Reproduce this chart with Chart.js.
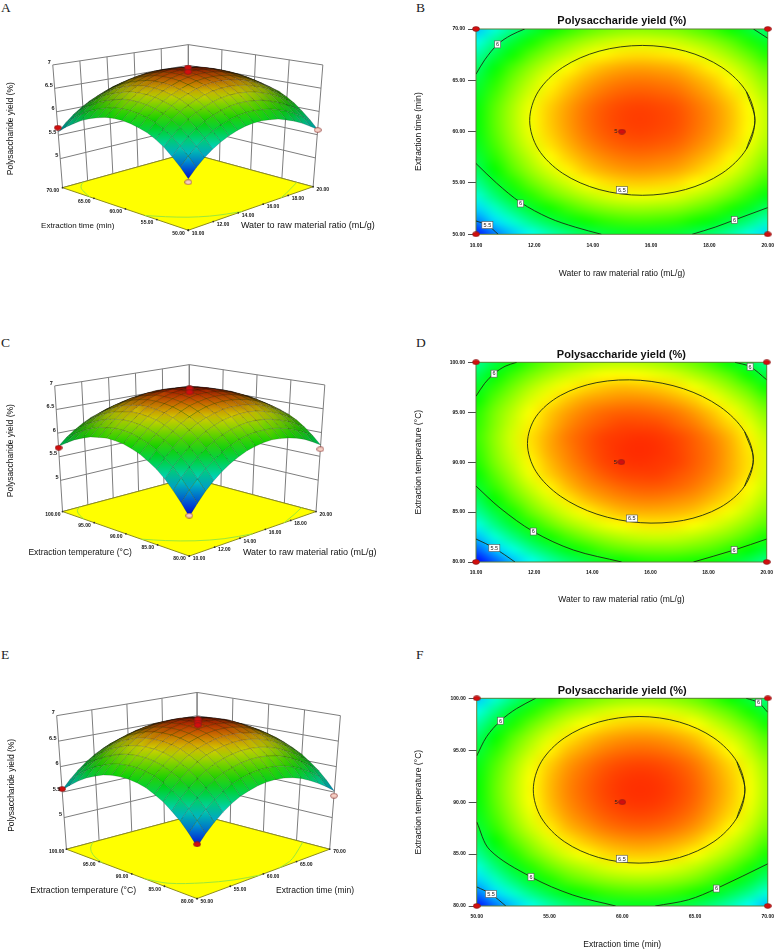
<!DOCTYPE html>
<html><head><meta charset="utf-8">
<script src="https://cdn.jsdelivr.net/npm/chart.js@4"></script>
<style>
html,body{margin:0;padding:0;background:#fff;overflow:hidden}
#page{position:relative;width:777px;height:951px}
canvas{position:absolute}
.tag{position:absolute;font:13.5px "Liberation Serif",serif;color:#222;line-height:13px}
</style></head><body><div id="page"></div>
<script>
const waterTicks=[10,12,14,16,18,20];
const timeTicks=[50,55,60,65,70];
const tempTicks=[80,85,90,95,100];
const zTicks=[5,5.5,6,6.5,7];
const gridSteps=[0,.0625,.125,.1875,.25,.3125,.375,.4375,.5,.5625,.625,.6875,.75,.8125,.875,.9375,1];

const yieldAB=[
[5.28,5.44,5.58,5.70,5.80,5.88,5.95,6.00,6.03,6.04,6.03,6.01,5.96,5.90,5.82,5.72,5.61],
[5.45,5.61,5.75,5.87,5.97,6.05,6.12,6.17,6.20,6.21,6.20,6.18,6.13,6.07,5.99,5.89,5.78],
[5.60,5.76,5.90,6.02,6.12,6.20,6.27,6.32,6.35,6.36,6.35,6.33,6.28,6.22,6.14,6.04,5.93],
[5.74,5.90,6.04,6.16,6.26,6.34,6.41,6.46,6.49,6.50,6.49,6.47,6.42,6.36,6.28,6.18,6.07],
[5.85,6.01,6.15,6.27,6.37,6.45,6.52,6.57,6.60,6.61,6.60,6.58,6.53,6.47,6.39,6.29,6.18],
[5.94,6.10,6.24,6.36,6.46,6.54,6.61,6.66,6.69,6.70,6.69,6.67,6.62,6.56,6.48,6.38,6.27],
[6.00,6.16,6.30,6.42,6.52,6.60,6.67,6.72,6.75,6.76,6.75,6.73,6.68,6.62,6.54,6.44,6.33],
[6.05,6.21,6.35,6.47,6.57,6.65,6.72,6.77,6.80,6.81,6.80,6.78,6.73,6.67,6.59,6.49,6.38],
[6.08,6.24,6.38,6.50,6.60,6.68,6.75,6.80,6.83,6.84,6.83,6.81,6.76,6.70,6.62,6.52,6.41],
[6.09,6.25,6.39,6.51,6.61,6.69,6.76,6.81,6.84,6.85,6.84,6.82,6.77,6.71,6.63,6.53,6.42],
[6.08,6.24,6.38,6.50,6.60,6.68,6.75,6.80,6.83,6.84,6.83,6.81,6.76,6.70,6.62,6.52,6.41],
[6.04,6.20,6.34,6.46,6.56,6.64,6.71,6.76,6.79,6.80,6.79,6.77,6.72,6.66,6.58,6.48,6.37],
[5.99,6.15,6.29,6.41,6.51,6.59,6.66,6.71,6.74,6.75,6.74,6.72,6.67,6.61,6.53,6.43,6.32],
[5.92,6.08,6.22,6.34,6.44,6.52,6.59,6.64,6.67,6.68,6.67,6.65,6.60,6.54,6.46,6.36,6.25],
[5.82,5.98,6.12,6.24,6.34,6.42,6.49,6.54,6.57,6.58,6.57,6.55,6.50,6.44,6.36,6.26,6.15],
[5.71,5.87,6.01,6.13,6.23,6.31,6.38,6.43,6.46,6.47,6.46,6.44,6.39,6.33,6.25,6.15,6.04],
[5.57,5.73,5.87,5.99,6.09,6.17,6.24,6.29,6.32,6.33,6.32,6.30,6.25,6.19,6.11,6.01,5.90]];

// panels C/D: rows run from temperature 80 to 100, columns from ratio 10 to 20
const yieldCD=[
[5.02,5.21,5.39,5.54,5.67,5.78,5.87,5.95,6.00,6.04,6.06,6.05,6.03,5.99,5.93,5.84,5.74],
[5.22,5.41,5.57,5.72,5.85,5.96,6.05,6.13,6.18,6.21,6.22,6.22,6.19,6.15,6.08,6.00,5.90],
[5.40,5.59,5.75,5.90,6.03,6.13,6.22,6.29,6.34,6.37,6.38,6.37,6.34,6.29,6.23,6.14,6.04],
[5.57,5.75,5.91,6.06,6.18,6.29,6.37,6.44,6.48,6.51,6.52,6.51,6.47,6.42,6.35,6.26,6.16],
[5.71,5.88,6.04,6.19,6.31,6.41,6.49,6.55,6.60,6.62,6.62,6.61,6.58,6.52,6.45,6.36,6.25],
[5.82,6.00,6.15,6.29,6.41,6.51,6.59,6.65,6.69,6.71,6.71,6.69,6.66,6.60,6.53,6.43,6.32],
[5.92,6.09,6.24,6.38,6.49,6.59,6.67,6.72,6.76,6.78,6.78,6.76,6.72,6.66,6.58,6.48,6.37],
[5.99,6.16,6.31,6.45,6.56,6.65,6.72,6.78,6.82,6.83,6.83,6.80,6.76,6.70,6.62,6.52,6.40],
[6.05,6.22,6.36,6.49,6.60,6.69,6.76,6.82,6.85,6.86,6.85,6.83,6.78,6.72,6.63,6.53,6.41],
[6.08,6.25,6.39,6.52,6.63,6.71,6.78,6.83,6.86,6.87,6.86,6.83,6.78,6.72,6.63,6.52,6.40],
[6.10,6.26,6.40,6.53,6.63,6.72,6.78,6.83,6.85,6.86,6.85,6.82,6.77,6.70,6.61,6.50,6.37],
[6.08,6.24,6.38,6.50,6.60,6.69,6.75,6.79,6.82,6.82,6.81,6.77,6.72,6.64,6.55,6.44,6.31],
[6.06,6.22,6.35,6.47,6.57,6.65,6.71,6.75,6.77,6.77,6.75,6.72,6.66,6.58,6.49,6.37,6.24],
[6.00,6.16,6.29,6.41,6.50,6.58,6.64,6.67,6.69,6.69,6.67,6.63,6.57,6.49,6.39,6.28,6.14],
[5.93,6.08,6.21,6.33,6.42,6.49,6.54,6.58,6.60,6.59,6.57,6.53,6.46,6.38,6.28,6.16,6.02],
[5.83,5.98,6.11,6.22,6.31,6.38,6.43,6.47,6.48,6.47,6.44,6.40,6.33,6.25,6.15,6.02,5.88],
[5.72,5.87,5.99,6.10,6.19,6.25,6.30,6.33,6.34,6.33,6.30,6.25,6.19,6.10,5.99,5.87,5.72]];

// panels E/F: rows run from temperature 80 to 100, columns from time 50 to 70
const yieldEF=[
[5.22,5.39,5.54,5.67,5.78,5.87,5.93,5.98,6.01,6.02,6.01,5.98,5.93,5.85,5.76,5.65,5.52],
[5.40,5.57,5.72,5.85,5.96,6.05,6.11,6.16,6.19,6.20,6.19,6.16,6.11,6.03,5.94,5.83,5.70],
[5.56,5.73,5.88,6.01,6.12,6.21,6.27,6.32,6.35,6.36,6.35,6.32,6.27,6.19,6.10,5.99,5.86],
[5.69,5.86,6.01,6.14,6.25,6.34,6.40,6.45,6.48,6.49,6.48,6.45,6.40,6.32,6.23,6.12,5.99],
[5.81,5.98,6.13,6.26,6.37,6.46,6.52,6.57,6.60,6.61,6.60,6.57,6.52,6.44,6.35,6.24,6.11],
[5.90,6.07,6.22,6.35,6.46,6.55,6.61,6.66,6.69,6.70,6.69,6.66,6.61,6.53,6.44,6.33,6.20],
[5.98,6.15,6.30,6.43,6.54,6.63,6.69,6.74,6.77,6.78,6.77,6.74,6.69,6.61,6.52,6.41,6.28],
[6.03,6.20,6.35,6.48,6.59,6.68,6.74,6.79,6.82,6.83,6.82,6.79,6.74,6.66,6.57,6.46,6.33],
[6.06,6.23,6.38,6.51,6.62,6.71,6.77,6.82,6.85,6.86,6.85,6.82,6.77,6.69,6.60,6.49,6.36],
[6.07,6.24,6.39,6.52,6.63,6.72,6.78,6.83,6.86,6.87,6.86,6.83,6.78,6.70,6.61,6.50,6.37],
[6.06,6.23,6.38,6.51,6.62,6.71,6.77,6.82,6.85,6.86,6.85,6.82,6.77,6.69,6.60,6.49,6.36],
[6.03,6.20,6.35,6.48,6.59,6.68,6.74,6.79,6.82,6.83,6.82,6.79,6.74,6.66,6.57,6.46,6.33],
[5.97,6.14,6.29,6.42,6.53,6.62,6.68,6.73,6.76,6.77,6.76,6.73,6.68,6.60,6.51,6.40,6.27],
[5.90,6.07,6.22,6.35,6.46,6.55,6.61,6.66,6.69,6.70,6.69,6.66,6.61,6.53,6.44,6.33,6.20],
[5.80,5.97,6.12,6.25,6.36,6.45,6.51,6.56,6.59,6.60,6.59,6.56,6.51,6.43,6.34,6.23,6.10],
[5.68,5.85,6.00,6.13,6.24,6.33,6.39,6.44,6.47,6.48,6.47,6.44,6.39,6.31,6.22,6.11,5.98],
[5.54,5.71,5.86,5.99,6.10,6.19,6.25,6.30,6.33,6.34,6.33,6.30,6.25,6.17,6.08,5.97,5.84]];

const contB65=[[19.56,61.1],[19.27,63.89],[18.43,66.26],[17.18,67.84],[15.7,68.4],[14.22,67.84],[12.97,66.26],[12.13,63.89],[11.84,61.1],[12.13,58.31],[12.97,55.94],[14.22,54.36],[15.7,53.8],[17.18,54.36],[18.43,55.94],[19.27,58.31],[19.56,61.1]];
const contB6a=[[10,65.6],[10.3,67],[10.74,68.5],[11.2,69.4],[11.67,70]];
const contB6b=[[19.51,70],[20,69.1]];
const contB6c=[[10,56.9],[10.7,55],[11.53,53.1],[12.5,51.6],[13.4,50.7],[14.3,50]];
const contB6d=[[17.41,50],[18.2,50.7],[18.86,51.4],[20,52.6]];
const contB55=[[10,51.3],[10.39,50.9],[10.76,50]];
const contD65=[[19.54,90.27],[19.24,93.06],[18.40,95.54],[17.14,97.35],[15.65,98.2],[14.16,97.97],[12.90,96.67],[12.06,94.54],[11.77,91.87],[12.06,89.08],[12.90,86.6],[14.16,84.79],[15.65,83.94],[17.14,84.17],[18.40,85.47],[19.24,87.6],[19.54,90.27]];
const contD6a=[[10,96.6],[10.3,97.9],[10.62,98.86],[11,99.6],[11.4,100]];
const contD6b=[[18.91,100],[19.43,99.56],[20,98.25]];
const contD6c=[[10,87.6],[10.83,85.4],[11.97,83.05],[13.35,81.2],[15.01,80]];
const contD6d=[[17.48,80],[18.88,81.2],[20,82.3]];
const contD55=[[10,82.3],[10.63,81.4],[11.34,80]];
const contF65=[[68.43,91.19],[67.88,93.89],[66.3,96.18],[63.94,97.71],[61.16,98.25],[58.38,97.71],[56.02,96.18],[54.44,93.89],[53.89,91.19],[54.44,88.49],[56.02,86.2],[58.38,84.67],[61.16,84.13],[63.94,84.67],[66.3,86.2],[67.88,88.49],[68.43,91.19]];
const contF6a=[[50,94.45],[50.68,96.3],[51.64,97.84],[52.73,99],[54.05,100]];
const contF6b=[[68.52,100],[69.36,99.58],[70,98.65]];
const contF6c=[[50,88.1],[50.9,85.4],[53.73,82.8],[56.6,81.06],[59.55,80]];
const contF6d=[[62.27,80],[64.55,80.6],[66.48,81.68],[70,84.06]];
const contF55=[[50,81.84],[50.98,81.16],[52,80]];

// contour label boxes [x, y, text]
const tagsB=[[10.74,68.5,'6'],[11.53,53,'6'],[18.86,51.4,'6'],[10.39,50.9,'5.5'],[15,54.3,'6.5']];
const tagsD=[[10.62,98.86,'6'],[19.43,99.56,'6'],[11.97,83.05,'6'],[18.88,81.2,'6'],[10.63,81.4,'5.5'],[15.36,84.36,'6.5']];
const tagsF=[[51.64,97.84,'6'],[69.36,99.58,'6'],[53.73,82.8,'6'],[66.48,81.68,'6'],[50.98,81.16,'5.5'],[59.98,84.55,'6.5']];

// design points on the response surfaces [x, y, yield, pale?]
const designA=[[10,70,5.66,0],[20,50,5.6,1],[10,50,5.22,1],[15,60,6.92,0],[15,60,6.83,0]];
const designC=[[10,100,5.69,0],[20,80,5.65,1],[10,80,5.04,1],[15,90,6.92,0],[15,90,6.84,0]];
const designE=[[50,100,5.56,0],[70,80,5.43,1],[50,80,5.26,0],[60,90,6.92,0],[60,90,6.86,0],[60,90,6.81,0]];
// design points on the contour plots [x, y]
const runsB=[[10,50],[20,50],[10,70],[20,70],[15,60]];
const runsD=[[10,80],[20,80],[10,100],[20,100],[15,90]];
const runsF=[[50,80],[70,80],[50,100],[70,100],[60,90]];

const FAMILY='"Liberation Sans",Arial,sans-serif';

function heatRGB(v,lo,hi){
  const stops=[[0,0,255],[0,255,255],[0,255,0],[255,255,0],[255,0,0]];
  let t=Math.max(0,Math.min(.9999,(v-lo)/(hi-lo)))*4,k=Math.floor(t),f=t-k;
  return stops[k].map((c,n)=>Math.round(c+(stops[k+1][n]-c)*f));
}
function ovalMark(fill){
  const c=document.createElement('canvas');c.width=8;c.height=6;
  const g=c.getContext('2d');g.fillStyle=fill;g.strokeStyle='#7a2020';g.lineWidth=.6;
  g.beginPath();g.ellipse(4,3,3.5,2.4,0,0,Math.PI*2);g.fill();g.stroke();return c;
}
const RED=ovalMark('#d40e0e'),PALE=ovalMark('#f6cfc4');

// ---------- 3D response surface panels
const polygonPlugin={id:'polygon',beforeDatasetDraw(chart,args){
  const ds=chart.data.datasets[args.index];if(!ds.polygon)return;
  const pts=chart.getDatasetMeta(args.index).data,c=chart.ctx;
  let fill=ds.polygon;
  if(typeof fill==='object'){
    const a=pts[fill.from],b=pts[fill.to],g=c.createLinearGradient(a.x,a.y,b.x,b.y);
    g.addColorStop(0,fill.c0);g.addColorStop(1,fill.c1);fill=g;
  }
  c.save();c.beginPath();pts.forEach((p,i)=>i?c.lineTo(p.x,p.y):c.moveTo(p.x,p.y));
  c.closePath();c.fillStyle=fill;c.fill();c.restore();
}};
const textPlugin={id:'texts',afterDraw(chart){
  const c=chart.ctx,sx=chart.scales.x,sy=chart.scales.y;
  (chart.options.texts||[]).forEach(t=>{
    c.save();c.translate(sx.getPixelForValue(t.x),sy.getPixelForValue(t.y));if(t.rot)c.rotate(t.rot);
    c.font=t.font;c.fillStyle='#111';c.textAlign=t.align||'left';c.textBaseline='middle';
    c.fillText(t.s,0,0);c.restore();
  });
}};

function surfacePanel(p){
  const cv=document.createElement('canvas');cv.width=400;cv.height=p.h;
  cv.style.left='0px';cv.style.top=p.y0+'px';page.appendChild(cv);
  const uOf=x=>(x-p.uTicks[0])/(p.uTicks.at(-1)-p.uTicks[0]);
  const vOf=y=>(y-p.vTicks[0])/(p.vTicks.at(-1)-p.vTicks[0]);
  const mix=(a,b,c,d,u,v,k)=>a[k]*(1-u)*(1-v)+b[k]*u*(1-v)+c[k]*(1-u)*v+d[k]*u*v;
  const proj=(u,v,z)=>{
    const h=(z-p.zFloor)/(7-p.zFloor);
    const lo={x:mix(p.F0,p.R0,p.L0,p.B0,u,v,0),y:mix(p.F0,p.R0,p.L0,p.B0,u,v,1)};
    const up={x:mix(p.F1,p.R1,p.L1,p.B1,u,v,0),y:mix(p.F1,p.R1,p.L1,p.B1,u,v,1)};
    return {x:lo.x+(up.x-lo.x)*h,y:lo.y+(up.y-lo.y)*h};
  };
  const ds=[];
  const line=(data,color,w,extra)=>ds.push(Object.assign({data,borderColor:color,borderWidth:w,showLine:true,pointRadius:0,tension:0},extra||{}));
  // wall grid
  const wall='#7d7d7d';
  p.uTicks.forEach(t=>line([proj(uOf(t),1,p.zFloor),proj(uOf(t),1,7)],wall,1));
  p.vTicks.forEach(t=>line([proj(1,vOf(t),p.zFloor),proj(1,vOf(t),7)],wall,1));
  zTicks.forEach(z=>line([proj(0,1,z),proj(1,1,z),proj(1,0,z)],wall,1));
  line([proj(0,1,p.zFloor),proj(1,1,p.zFloor),proj(1,0,p.zFloor)],wall,1);
  // floor
  line([proj(0,0,p.zFloor),proj(1,0,p.zFloor),proj(1,1,p.zFloor),proj(0,1,p.zFloor),proj(0,0,p.zFloor)],'#8d8d1a',1,{polygon:'#ffff00'});
  p.floorLines.forEach(a=>line(a.map(q=>proj(uOf(q[0]),vOf(q[1]),p.zFloor)),'#9be83a',1,{tension:.33}));
  // edge ticks on the floor
  ds.push({data:[...p.uTicks.map(t=>proj(uOf(t),0,p.zFloor)),...p.vTicks.map(t=>proj(0,vOf(t),p.zFloor))],showLine:false,pointRadius:.9,pointBackgroundColor:'#333',pointBorderWidth:0});
  // surface quads, far to near; dense screen areas read darker as the fine mesh does
  const n=gridSteps.length-1,z=p.grid;
  const corners=(i,j)=>[[i,j],[i+1,j],[i+1,j+1],[i,j+1]];
  const at=(i,j)=>proj(gridSteps[i],gridSteps[j],z[j][i]);
  const areas=[];
  for(let j=0;j<n;j++){areas[j]=[];for(let i=0;i<n;i++){
    const pts=corners(i,j).map(q=>at(q[0],q[1]));let s=0;
    pts.forEach((a,k)=>{const b=pts[(k+1)%4];s+=a.x*b.y-b.x*a.y});areas[j][i]=Math.abs(s)/2;
  }}
  const shadeAt=(i,j)=>{
    let s=0,c=0;
    [[i-1,j-1],[i,j-1],[i-1,j],[i,j]].forEach(([a,b])=>{if(areas[b]&&areas[b][a]!==undefined){s+=areas[b][a];c++}});
    const area=s/c;return Math.max(.22,Math.min(.82,area/(area+22)));
  };
  const colorAt=(i,j)=>`rgb(${heatRGB(z[j][i],p.lo,p.hi).map(c=>Math.round(c*shadeAt(i,j)))})`;
  const quads=[];
  for(let j=0;j<n;j++)for(let i=0;i<n;i++)quads.push([i,j]);
  quads.sort((a,b)=>(b[0]+b[1])-(a[0]+a[1]));
  quads.forEach(([i,j])=>{
    const cs=corners(i,j);let from=0,to=0;
    cs.forEach((q,k)=>{if(z[q[1]][q[0]]<z[cs[from][1]][cs[from][0]])from=k;if(z[q[1]][q[0]]>z[cs[to][1]][cs[to][0]])to=k});
    const pts=cs.map(q=>at(q[0],q[1]));
    line([...pts,pts[0]],'rgba(0,0,0,0.25)',.6,{polygon:{from,to,c0:colorAt(cs[from][0],cs[from][1]),c1:colorAt(cs[to][0],cs[to][1])}});
  });
  // design points
  ds.push({data:p.design.map(q=>proj(uOf(q[0]),vOf(q[1]),q[2])),showLine:false,pointRadius:4,
    pointStyle:p.design.map(q=>q[3]?PALE:RED)});
  ds.reverse();
  const texts=[];
  const tickFont=`bold 5px ${FAMILY}`,zFont=`bold 5.5px ${FAMILY}`;
  p.uTicks.forEach(t=>{const q=proj(uOf(t),0,p.zFloor);texts.push({x:q.x+10,y:q.y+3,s:t.toFixed(2),font:tickFont,align:'center'})});
  p.vTicks.forEach(t=>{const q=proj(0,vOf(t),p.zFloor);texts.push({x:q.x-10,y:q.y+3,s:t.toFixed(2),font:tickFont,align:'center'})});
  zTicks.forEach(v=>{const q=proj(0,1,v);texts.push({x:q.x-2,y:q.y-3,s:String(v),font:zFont,align:'right'})});
  texts.push({x:p.vTitle[1],y:p.vTitle[2],s:p.vTitle[0],font:`${p.vTitle[3]}px ${FAMILY}`});
  texts.push({x:p.uTitle[1],y:p.uTitle[2],s:p.uTitle[0],font:`${p.uTitle[3]}px ${FAMILY}`});
  texts.push({x:p.zTitle[0],y:p.zTitle[1],s:'Polysaccharide yield (%)',font:`8.5px ${FAMILY}`,align:'center',rot:-Math.PI/2});
  new Chart(cv,{type:'scatter',data:{datasets:ds},plugins:[polygonPlugin,textPlugin],options:{
    responsive:false,animation:false,devicePixelRatio:1,events:[],texts,
    layout:{padding:0},
    plugins:{legend:{display:false},tooltip:{enabled:false}},
    scales:{x:{type:'linear',display:false,min:0,max:400},y:{type:'linear',display:false,reverse:true,min:p.y0,max:p.y0+p.h}}
  }});
}

// ---------- contour panels
const heatPlugin={id:'heat',beforeDatasetsDraw(chart){
  const o=chart.options.heat,n=o.grid.length,c=document.createElement('canvas');c.width=c.height=n;
  const g=c.getContext('2d'),im=g.createImageData(n,n);
  o.grid.forEach((row,j)=>row.forEach((v,i)=>{
    const rgb=heatRGB(v,o.lo,o.hi),k=((n-1-j)*n+i)*4;
    im.data[k]=rgb[0];im.data[k+1]=rgb[1];im.data[k+2]=rgb[2];im.data[k+3]=255;
  }));
  g.putImageData(im,0,0);
  const {x,y}=chart.scales,l=x.getPixelForValue(x.min),r=x.getPixelForValue(x.max),t=y.getPixelForValue(y.max),b=y.getPixelForValue(y.min);
  const ctx=chart.ctx;ctx.save();ctx.imageSmoothingEnabled=true;ctx.imageSmoothingQuality='high';
  ctx.drawImage(c,.5,.5,n-1,n-1,l,t,r-l,b-t);
  ctx.strokeStyle='#5e7f3a';ctx.lineWidth=1;ctx.strokeRect(l,t,r-l,b-t);ctx.restore();
}};
const tagPlugin={id:'tags',afterDatasetsDraw(chart){
  const o=chart.options.tagList,ctx=chart.ctx,{x,y}=chart.scales;
  ctx.save();ctx.textAlign='center';ctx.textBaseline='middle';
  o.forEach(t=>{
    const px=x.getPixelForValue(t[0]),py=y.getPixelForValue(t[1]),w=t[2].length>1?11:6,h=7;
    ctx.fillStyle='#fff';ctx.strokeStyle='#555';ctx.lineWidth=.6;
    ctx.fillRect(px-w/2,py-h/2,w,h);ctx.strokeRect(px-w/2,py-h/2,w,h);
    ctx.fillStyle='#222';ctx.font=`5.5px ${FAMILY}`;ctx.fillText(t[2],px,py+.3);
  });
  const ctr=chart.options.center;
  ctx.fillStyle='#222';ctx.font=`6px ${FAMILY}`;
  ctx.fillText('5',x.getPixelForValue(ctr[0])-6,y.getPixelForValue(ctr[1]));
  ctx.restore();
}};
// a closed contour gets its neighbours on both sides of the seam so the curve has no kink there
const toXY=q=>({x:q[0],y:q[1]});
function contourPoints(a){
  const closed=a.length>4&&a[0][0]===a.at(-1)[0]&&a[0][1]===a.at(-1)[1];
  return (closed?[a.at(-2),...a,a[1]]:a).map(toXY);
}
function contourPanel(p){
  const cv=document.createElement('canvas');cv.width=377;cv.height=p.h;
  cv.style.left='400px';cv.style.top=p.y0+'px';page.appendChild(cv);
  const ds=[{data:p.runs.map(toXY),showLine:false,pointRadius:4,pointStyle:RED,clip:false}];
  p.lines.forEach(a=>ds.push({data:contourPoints(a),showLine:true,pointRadius:0,borderColor:'#1d2b12',borderWidth:.9,tension:.33}));
  const tickFont={size:5,weight:'bold',family:FAMILY};
  new Chart(cv,{type:'scatter',data:{datasets:ds},plugins:[heatPlugin,tagPlugin],options:{
    responsive:false,animation:false,devicePixelRatio:1,events:[],
    heat:{grid:p.grid,lo:p.lo,hi:p.hi},tagList:p.tags,center:p.runs[4],
    layout:{padding:{top:p.top-p.y0-15.2,right:777-p.right,bottom:0,left:0}},
    plugins:{legend:{display:false},tooltip:{enabled:false},
      title:{display:true,text:'Polysaccharide yield (%)',fullSize:false,color:'#111',padding:{top:0,bottom:1},font:{size:11,weight:'bold',family:FAMILY}}},
    scales:{
      x:{type:'linear',min:p.xTicks[0],max:p.xTicks.at(-1),
        afterBuildTicks(a){a.ticks=p.xTicks.map(v=>({value:v}))},
        afterFit(s){s.height=p.y0+p.h-p.bottom},
        ticks:{font:tickFont,color:'#111',padding:3,maxRotation:0,autoSkip:false,callback:v=>v.toFixed(2)},
        grid:{drawOnChartArea:false,tickLength:5,tickColor:'rgba(0,0,0,0)'},border:{display:false},
        title:{display:true,text:p.xTitle,font:{size:8.5,family:FAMILY},color:'#111',padding:{top:0,bottom:p.y0+p.h-p.xTitleY-5.1}}},
      y:{type:'linear',min:p.yTicks[0],max:p.yTicks.at(-1),
        afterBuildTicks(a){a.ticks=p.yTicks.map(v=>({value:v}))},
        afterFit(s){s.width=p.left-400},
        ticks:{font:tickFont,color:'#111',padding:3,autoSkip:false,callback:v=>v.toFixed(2)},
        grid:{drawOnChartArea:false,tickLength:8,tickColor:'#222',tickWidth:.8},border:{display:false},
        title:{display:true,text:p.yTitle,font:{size:8.6,family:FAMILY},color:'#111',padding:{top:13,bottom:0}}}
    }
  }});
}

const page=document.getElementById('page');
[['A',1,1],['B',416,1],['C',1,336],['D',416,336],['E',1,648],['F',416,648]].forEach(t=>{
  const d=document.createElement('div');d.className='tag';d.textContent=t[0];d.style.left=t[1]+'px';d.style.top=t[2]+'px';page.appendChild(d);
});

surfacePanel({y0:0,h:300,grid:yieldAB,lo:5.25,hi:6.95,uTicks:waterTicks,vTicks:timeTicks,zFloor:4.38,
  F0:[188,233],R0:[316,188],L0:[59,189],B0:[188,153],F1:[188,78],R1:[326,62],L1:[49,62],B1:[188,41],
  floorLines:[contB6a,contB6b,contB6c,contB6d],design:designA,
  vTitle:['Extraction time (min)',37,228,8],uTitle:['Water to raw material ratio (mL/g)',242,228,9],zTitle:[6,128]});
surfacePanel({y0:320,h:300,grid:yieldCD,lo:5.05,hi:6.95,uTicks:waterTicks,vTicks:tempTicks,zFloor:4.34,
  F0:[189,559],R0:[319,513],L0:[59,513],B0:[189,478],F1:[189,400],R1:[328,382],L1:[51,383],B1:[189,361],
  floorLines:[contD6a,contD6b,contD6c,contD6d],design:designC,
  vTitle:['Extraction temperature (°C)',24,555,8.5],uTitle:['Water to raw material ratio (mL/g)',244,555,9],zTitle:[6,450]});
surfacePanel({y0:640,h:311,grid:yieldEF,lo:5.2,hi:6.95,uTicks:timeTicks,vTicks:tempTicks,zFloor:4.38,
  F0:[197,902],R0:[333,851],L0:[63,851],B0:[197,815],F1:[197,735],R1:[344,713],L1:[53,713],B1:[197,689],
  floorLines:[contF6a,contF6b,contF6c,contF6d],design:designE,
  vTitle:['Extraction temperature (°C)',26,894,8.7],uTitle:['Extraction time (min)',278,894,8.5],zTitle:[7,785]});

contourPanel({y0:0,h:290,left:476,right:769.3,top:30,bottom:234.3,grid:yieldAB,lo:5.25,hi:6.95,xTicks:waterTicks,yTicks:timeTicks,
  lines:[contB65,contB6a,contB6b,contB6c,contB6d,contB55],tags:tagsB,runs:runsB,
  xTitle:'Water to raw material ratio (mL/g)',yTitle:'Extraction time (min)',xTitleY:273.7});
contourPanel({y0:320,h:290,left:476,right:766.7,top:363.3,bottom:562,grid:yieldCD,lo:5.05,hi:6.95,xTicks:waterTicks,yTicks:tempTicks,
  lines:[contD65,contD6a,contD6b,contD6c,contD6d,contD55],tags:tagsD,runs:runsD,
  xTitle:'Water to raw material ratio (mL/g)',yTitle:'Extraction temperature (°C)',xTitleY:600});
contourPanel({y0:640,h:311,left:476.7,right:770,top:699.3,bottom:906,grid:yieldEF,lo:5.2,hi:6.95,xTicks:timeTicks,yTicks:tempTicks,
  lines:[contF65,contF6a,contF6b,contF6c,contF6d,contF55],tags:tagsF,runs:runsF,
  xTitle:'Extraction time (min)',yTitle:'Extraction temperature (°C)',xTitleY:945});
</script></body></html>
